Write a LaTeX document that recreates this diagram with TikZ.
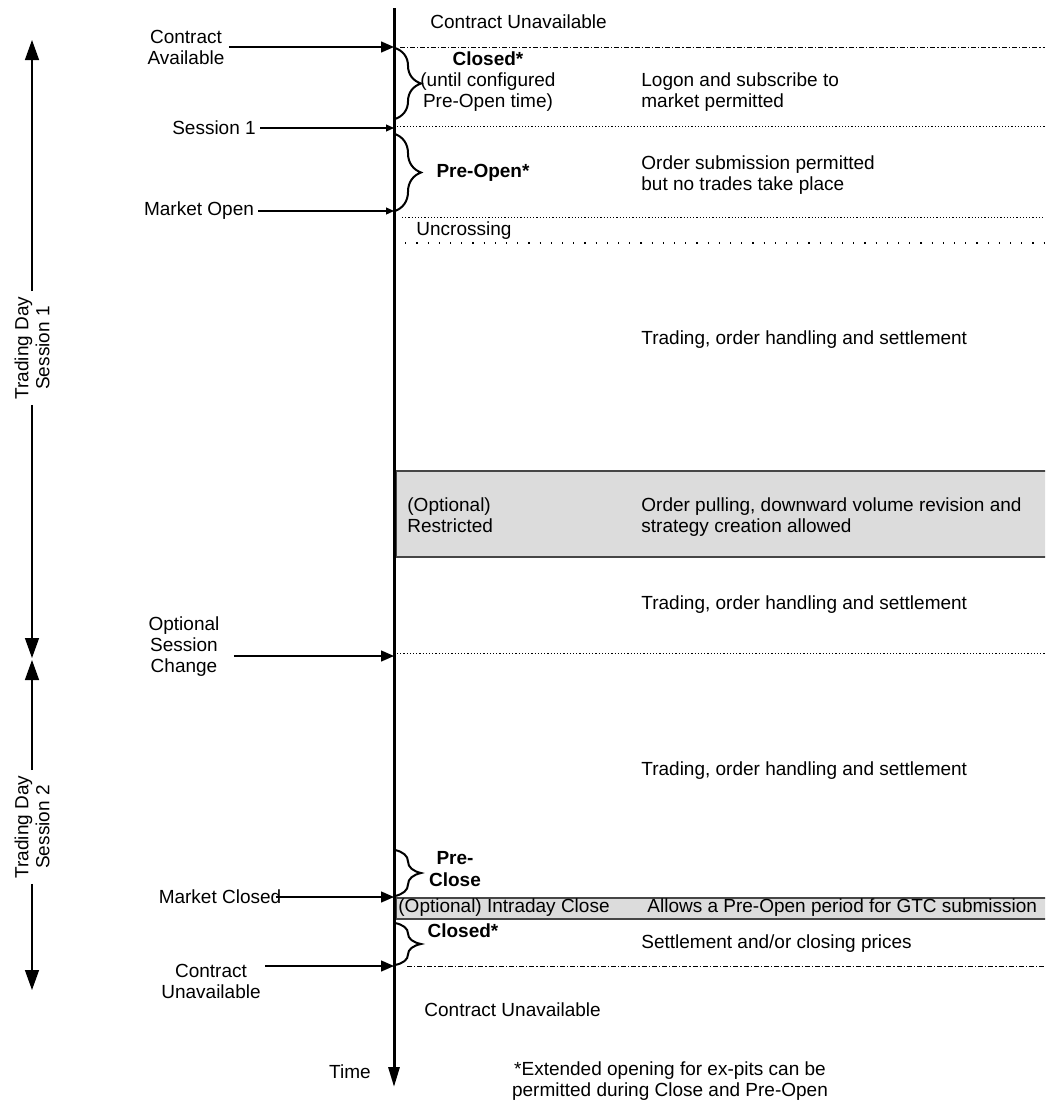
\documentclass[tikz,border=0pt]{standalone}
\usepackage{fontspec}
\setmainfont{Liberation Sans}
\usetikzlibrary{arrows.meta,decorations.pathreplacing}

\begin{document}
\begin{tikzpicture}[x=0.5pt,y=-0.5pt,
	every node/.style={font=\fontsize{9.5}{10.5}\selectfont, inner sep=0pt},
	desc/.style={anchor=west, align=left},
	side/.style={align=center, inner sep=2pt},
	phase/.style={align=center},
	daylabel/.style={rotate=90, align=center, fill=white, inner sep=2.5pt},
	timeline/.style={line width=1.5pt, -{Triangle[length=10pt,width=5.5pt]}},
	bigarrow/.style={line width=0.7pt, -{Triangle[length=6.5pt,width=5.5pt]}},
	smallarrow/.style={line width=0.6pt, -{Triangle[length=4pt,width=3.5pt]}},
	spanarrow/.style={line width=0.7pt, -{Triangle[length=10pt,width=7pt]}},
	bracket/.style={line width=1pt, decorate, decoration={brace, amplitude=13pt}},
	dashdot/.style={line width=0.5pt, dash pattern=on 2.5pt off 1pt on 0.6pt off 1pt},
	dots/.style={line width=0.5pt, dash pattern=on 0.6pt off 1pt},
	sparsedots/.style={line width=0.6pt, dash pattern=on 0.6pt off 5pt}]
	% Define custom colors
	\definecolor{bandgrey}{RGB}{220, 220, 220}
	\definecolor{bandedge}{RGB}{70, 70, 70}
	\useasboundingbox (0,0) rectangle (1045,1108);
	\clip (0,0) rectangle (1045,1108);
	% points on the time line
	\coordinate (ttop) at (394,8);
	\coordinate (tbot) at (394,1087);
	\coordinate (tCA) at (394,47);
	\coordinate (tS1) at (394,128);
	\coordinate (tMO) at (394,211);
	\coordinate (tOSC) at (394,656);
	\coordinate (tMC) at (394,897);
	\coordinate (tCU) at (394,966);
	% grey bands
	\fill[bandgrey, draw=bandedge, line width=0.6pt] (396,471) rectangle (1052,557);
	\fill[bandgrey, draw=bandedge, line width=0.6pt] (396,898) rectangle (1052,919);
	% separators
	\draw[dashdot] (400,47) -- (1045,47);
	\draw[dots] (397,126) -- (1045,126);
	\draw[dots] (402,217) -- (1045,217);
	\draw[sparsedots] (394,243) -- (1045,243);
	\draw[dots] (397,653) -- (1045,653);
	\draw[dashdot] (407,966) -- (1045,966);
	% braces
	\draw[bracket] (395,48) -- (395,119);
	\draw[bracket] (395,134) -- (395,211);
	\draw[bracket] (395,850) -- (395,896);
	\draw[bracket] (395,923) -- (395,965);
	% phase names
	\node[phase] (closed1) at (488,82) {\textbf{Closed*}\\(until configured\\Pre-Open time)};
	\node[phase, font=\fontsize{9.5}{10.5}\selectfont\bfseries] (preopen) at (483,173) {Pre-Open*};
	\node[phase, font=\fontsize{9.5}{11}\selectfont\bfseries] (preclose) at (455,869) {Pre-\\Close};
	\node[phase, font=\fontsize{9.5}{10.5}\selectfont\bfseries] (closed2) at (463,931) {Closed*};
	% descriptions
	\node[desc] (topcu) at (430,22) {Contract Unavailable};
	\node[desc] (logon) at (641,92) {Logon and subscribe to\\market permitted};
	\node[desc] (ordsub) at (641,175) {Order submission permitted\\but no trades take place};
	\node[desc] (uncross) at (416,231) {Uncrossing};
	\node[desc] (trade1) at (641,340) {Trading, order handling and settlement};
	\node[desc] (restr) at (407,515) {(Optional)\\Restricted};
	\node[desc] (pull) at (641,517) {Order pulling, downward volume revision and\\strategy creation allowed};
	\node[desc] (trade2) at (641,605) {Trading, order handling and settlement};
	\node[desc] (trade3) at (641,771) {Trading, order handling and settlement};
	\node[desc] (intraday) at (398,908) {(Optional) Intraday Close};
	\node[desc] (gtc) at (647,908) {Allows a Pre-Open period for GTC submission};
	\node[desc] (settle) at (641,944) {Settlement and/or closing prices};
	\node[desc] (botcu) at (424,1010) {Contract Unavailable};
	% events
	\node[side] (cavail) at (186,47) {Contract\\Available};
	\node[side] (sess1) at (214,128) {Session 1};
	\node[side] (mopen) at (199,211) {Market Open};
	\node[side] (osc) at (184,647) {Optional\\Session\\Change};
	\node[side] (mclosed) at (220,897) {Market Closed};
	\node[side] (cunav) at (211,981) {Contract\\Unavailable};
	\draw[bigarrow] (cavail.east) -- (tCA);
	\draw[smallarrow] (sess1.east) -- (tS1);
	\draw[smallarrow] (mopen.east) -- (tMO);
	\draw[bigarrow, shorten <=5pt] (osc.east |- tOSC) -- (tOSC);
	\draw[bigarrow, shorten <=-5pt] (mclosed.east) -- (tMC);
	\draw[bigarrow] (cunav.east |- tCU) -- (tCU);
	% trading day spans
	\coordinate (s1top) at (32,40);
	\coordinate (s1bot) at (32,658);
	\coordinate (s2top) at (32,660);
	\coordinate (s2bot) at (32,990);
	\node[daylabel] (day1) at (32,348) {Trading Day\\Session 1};
	\node[daylabel] (day2) at (32,827) {Trading Day\\Session 2};
	\draw[spanarrow] (day1.east) -- (s1top);
	\draw[spanarrow] (day1.west) -- (s1bot);
	\draw[spanarrow] (day2.east) -- (s2top);
	\draw[spanarrow] (day2.west) -- (s2bot);
	% time axis
	\draw[timeline] (ttop) -- (tbot);
	\node (time) at (350,1072) {Time};
	\node[align=center] (note) at (670,1081) {*Extended opening for ex-pits can be\\permitted during Close and Pre-Open};
\end{tikzpicture}
\end{document}
